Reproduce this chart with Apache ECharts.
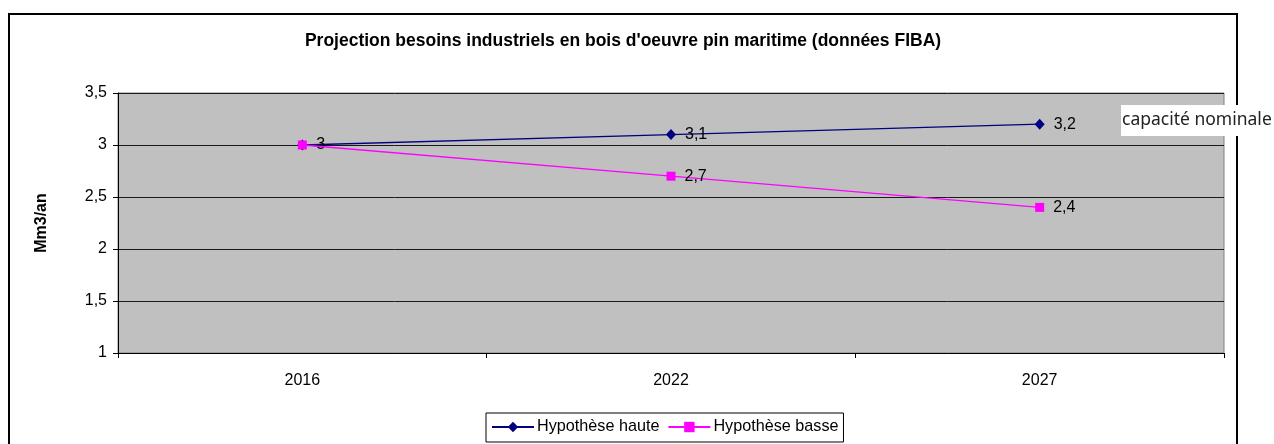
<!DOCTYPE html>
<html>
<head>
<meta charset="utf-8">
<script src="https://cdn.jsdelivr.net/npm/echarts@6/dist/echarts.min.js"></script>
<style>
  html, body { margin: 0; padding: 0; background: #fff; }
  #chart { width: 1274px; height: 444px; }
</style>
</head>
<body>
<div id="chart"></div>
<script>
// Années de projection et besoins (Mm3/an) selon les deux hypothèses
const years = ['2016', '2022', '2027'];
const hypotheseHaute = [3, 3.1, 3.2];
const hypotheseBasse = [3, 2.7, 2.4];
const yTicks = { min: 1, max: 3.5, step: 0.5 };

const FONT = '"Liberation Sans", Arial, sans-serif';
const comma = v => String(v).replace('.', ',');

const chart = echarts.init(document.getElementById('chart'), null, { renderer: 'canvas' });

const labelStyle = {
  show: true,
  position: 'right',
  distance: 9,
  fontFamily: FONT,
  fontSize: 16,
  color: '#000',
  formatter: p => comma(p.value)
};

chart.setOption({
  animation: false,
  backgroundColor: '#fff',
  title: {
    text: "Projection besoins industriels en bois d'oeuvre pin maritime (données FIBA)",
    left: 618,
    textAlign: 'center',
    top: 27,
    textStyle: { fontFamily: FONT, fontSize: 17.5, fontWeight: 'bold', color: '#000' }
  },
  grid: {
    left: 118, right: 50, top: 93, bottom: 91,
    show: true,
    backgroundColor: '#C0C0C0',
    borderColor: '#808080',
    borderWidth: 1
  },
  legend: {
    left: 486,
    top: 413,
    orient: 'horizontal',
    itemWidth: 42,
    itemHeight: 13,
    itemGap: 8,
    padding: [6, 5, 7, 5],
    borderColor: '#000',
    borderWidth: 1,
    textStyle: { fontFamily: FONT, fontSize: 16.2, color: '#000', padding: [0, 0, 0, -2] },
    data: ['Hypothèse haute', 'Hypothèse basse']
  },
  xAxis: {
    type: 'category',
    data: years,
    boundaryGap: true,
    axisLine: { lineStyle: { color: '#000', width: 1 } },
    axisTick: { show: true, length: 5, lineStyle: { color: '#000' } },
    axisLabel: { fontFamily: FONT, fontSize: 16, color: '#000', margin: 20 },
    splitLine: { show: false }
  },
  yAxis: {
    type: 'value',
    min: yTicks.min,
    max: yTicks.max,
    interval: yTicks.step,
    name: 'Mm3/an',
    nameLocation: 'middle',
    nameRotate: 90,
    nameGap: 68,
    nameTextStyle: { fontFamily: FONT, fontSize: 16, fontWeight: 'bold', color: '#000' },
    axisLine: { show: true, lineStyle: { color: '#000', width: 1 } },
    axisTick: { show: true, length: 5, lineStyle: { color: '#000' } },
    axisLabel: { fontFamily: FONT, fontSize: 16, color: '#000', margin: 11, formatter: v => comma(v) },
    splitLine: { show: true, lineStyle: { color: '#1a1a1a', width: 1 } }
  },
  series: [
    {
      name: 'Hypothèse haute',
      type: 'line',
      data: hypotheseHaute,
      symbol: 'diamond',
      symbolSize: [10, 11],
      showAllSymbol: true,
      lineStyle: { color: '#000080', width: 1.3 },
      itemStyle: { color: '#000080' },
      label: labelStyle,
      labelLayout: { hideOverlap: true },
      z: 2
    },
    {
      name: 'Hypothèse basse',
      type: 'line',
      data: hypotheseBasse,
      symbol: 'rect',
      symbolSize: 9,
      showAllSymbol: true,
      lineStyle: { color: '#FF00FF', width: 1.3 },
      itemStyle: { color: '#FF00FF' },
      label: labelStyle,
      labelLayout: { hideOverlap: true },
      z: 3
    }
  ],
  graphic: [
    {
      type: 'rect',
      shape: { x: 9, y: 14, width: 1228, height: 460 },
      style: { fill: null, stroke: '#000', lineWidth: 2 },
      silent: true,
      z: 0
    },
    {
      type: 'group',
      x: 1121, y: 105,
      z: 100,
      children: [
        { type: 'rect', shape: { x: 0, y: 0, width: 160, height: 31 }, style: { fill: '#fff' } },
        {
          type: 'text', x: 1, y: 15.5,
          style: {
            text: 'capacité nominale',
            fontFamily: '"Noto Sans", Roboto, sans-serif',
            fontSize: 17.5,
            fill: '#222',
            textVerticalAlign: 'middle'
          }
        }
      ]
    }
  ]
});
</script>
</body>
</html>
